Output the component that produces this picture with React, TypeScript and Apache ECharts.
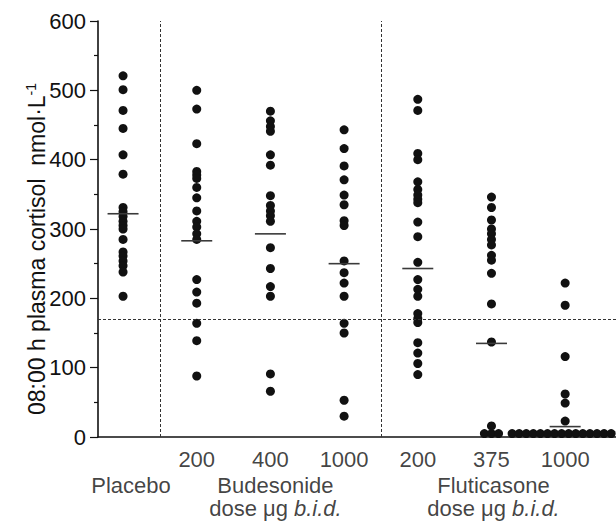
import React, { useEffect, useRef } from 'react';
import * as echarts from 'echarts';

// ---- data ----
const groupNames = ['Placebo', 'Budesonide 200', 'Budesonide 400', 'Budesonide 1000', 'Fluticasone 200', 'Fluticasone 375', 'Fluticasone 1000'];
const placebo = [521, 501, 471, 445, 407, 379, 331, 325, 318, 311, 305, 300, 285, 267, 261, 254, 247, 238, 203];
const budesonide200 = [500, 473, 423, 383, 378, 373, 360, 345, 326, 311, 303, 293, 285, 227, 209, 193, 164, 139, 88];
const budesonide400 = [470, 456, 448, 441, 407, 392, 348, 334, 326, 319, 311, 273, 243, 217, 203, 91, 66];
const budesonide1000 = [443, 416, 391, 371, 349, 335, 312, 305, 254, 237, 222, 203, 164, 150, 53, 30];
const fluticasone200 = [487, 471, 409, 400, 368, 357, 349, 343, 338, 310, 289, 252, 227, 213, 203, 178, 171, 165, 136, 121, 106, 90];
const fluticasone375 = [346, 331, 313, 300, 293, 285, 277, 262, 255, 236, 192, 137, 16, 5, 5, 5];
const fluticasone1000 = [222, 190, 116, 62, 49, 23, 5, 5, 5, 5, 5, 5, 5, 5, 5, 5, 5, 5, 5, 5, 5, 5];
const groupMeans = [322, 283, 293, 250, 243, 135, 15];
const doseLabels = ['', '200', '400', '1000', '200', '375', '1000'];
const drugLabels = ['Placebo', 'Budesonide', 'Fluticasone'];
const drugGroupIndex = [0, 2, 5];
const drugSubLabels = ['', 'dose μg ', 'dose μg '];
const drugSubItalic = ['', 'b.i.d.', 'b.i.d.'];
const normalLimit = 170;
const dividers = [0.5, 3.5];
const yTicks = [0, 100, 200, 300, 400, 500, 600];

const FONT = '"Liberation Sans", Arial, Helvetica, sans-serif';
const INK = '#111111';

export default function App() {
  const ref = useRef<HTMLDivElement>(null);
  useEffect(() => {
    if (!ref.current) return;
    const chart = echarts.init(ref.current, null, { renderer: 'svg' });
    const groups = [placebo, budesonide200, budesonide400, budesonide1000, fluticasone200, fluticasone375, fluticasone1000];
    // undetectable values (< 10) are laid out side by side in a row (beeswarm-like)
    const LOW = 10;
    const step = 0.096;
    const dots: number[][] = [];
    groups.forEach((vals, g) => {
      const nLow = vals.filter((v) => v < LOW).length;
      let k = 0;
      vals.forEach((v) => {
        if (v < LOW) {
          dots.push([g + (k - (nLow - 1) / 2) * step, v]);
          k++;
        } else {
          dots.push([g, v]);
        }
      });
    });
    const means = groupMeans.map((m, g) => [g, m]);
    const doseItems = doseLabels
      .map((t, g) => (t ? { value: [g, 0], label: { formatter: t } } : null))
      .filter(Boolean);
    const drugOffsets = [8, 5, 2];
    const drugItems = drugLabels.map((t, i) => ({
      value: [drugGroupIndex[i], 0],
      label: {
        offset: [drugOffsets[i], 0],
        formatter: drugSubLabels[i]
          ? `{n|${t}}\n{n|${drugSubLabels[i]}}{i|${drugSubItalic[i]}}`
          : `{n|${t}}`,
      },
    }));

    const option: any = {
      animation: false,
      backgroundColor: '#ffffff',
      grid: { left: 98, right: 0, top: 21, bottom: 84, containLabel: false },
      xAxis: {
        type: 'value',
        min: -0.34,
        max: 6.69,
        axisLine: { show: true, onZero: false, lineStyle: { color: INK, width: 1.6 } },
        axisTick: { show: false },
        axisLabel: { show: false },
        splitLine: { show: false },
      },
      yAxis: {
        type: 'value',
        min: yTicks[0],
        max: yTicks[yTicks.length - 1],
        interval: 100,
        axisLine: { show: true, onZero: false, lineStyle: { color: INK, width: 1.6 } },
        axisTick: { show: true, length: 8, lineStyle: { color: INK, width: 1.2 } },
        minorTick: { show: true, splitNumber: 2, length: 4, lineStyle: { color: INK, width: 1.2 } },
        axisLabel: { color: INK, fontFamily: FONT, fontSize: 22, margin: 12 },
        splitLine: { show: false },
      },
      graphic: [
        {
          type: 'text',
          x: 37,
          y: 249,
          rotation: Math.PI / 2,
          style: {
            text: '{t|08:00 h plasma cortisol  nmol·L}{s|-1}',
            align: 'center',
            verticalAlign: 'middle',
            fill: INK,
            rich: {
              t: { fontFamily: FONT, fontSize: 23, fill: INK, lineHeight: 26 },
              s: { fontFamily: FONT, fontSize: 14, fill: INK, verticalAlign: 'top', lineHeight: 26, padding: [0, 0, 10, 0] },
            },
          },
        },
      ],
      series: [
        {
          type: 'scatter',
          name: 'cortisol',
          symbol: 'circle',
          symbolSize: 9,
          itemStyle: { color: INK, opacity: 1 },
          data: dots,
          z: 3,
          markLine: {
            silent: true,
            symbol: ['none', 'none'],
            label: { show: false },
            lineStyle: { type: [3, 2], color: '#333', width: 1 },
            data: [...dividers.map((d) => ({ xAxis: d })), { yAxis: normalLimit }],
          },
        },
        {
          type: 'scatter',
          name: 'mean',
          symbol: 'rect',
          symbolSize: [31, 1.6],
          itemStyle: { color: '#3a3a3a', opacity: 1 },
          data: means,
          z: 4,
        },
        {
          type: 'scatter',
          name: 'doses',
          silent: true,
          symbolSize: 0,
          clip: false,
          data: doseItems,
          label: {
            show: true,
            position: 'bottom',
            distance: 10,
            color: INK,
            fontFamily: FONT,
            fontSize: 22,
            lineHeight: 24,
          },
        },
        {
          type: 'scatter',
          name: 'drugs',
          silent: true,
          symbolSize: 0,
          clip: false,
          data: drugItems,
          label: {
            show: true,
            position: 'bottom',
            distance: 37,
            color: INK,
            align: 'center',
            rich: {
              n: { fontFamily: FONT, fontSize: 22, lineHeight: 23, color: INK },
              i: { fontFamily: FONT, fontSize: 22, lineHeight: 23, color: INK, fontStyle: 'italic' },
            },
          },
        },
      ],
    };
    chart.setOption(option);
    return () => chart.dispose();
  }, []);
  return <div ref={ref} style={{ position: 'fixed', left: 0, top: 0, width: 616, height: 521 }} />;
}
